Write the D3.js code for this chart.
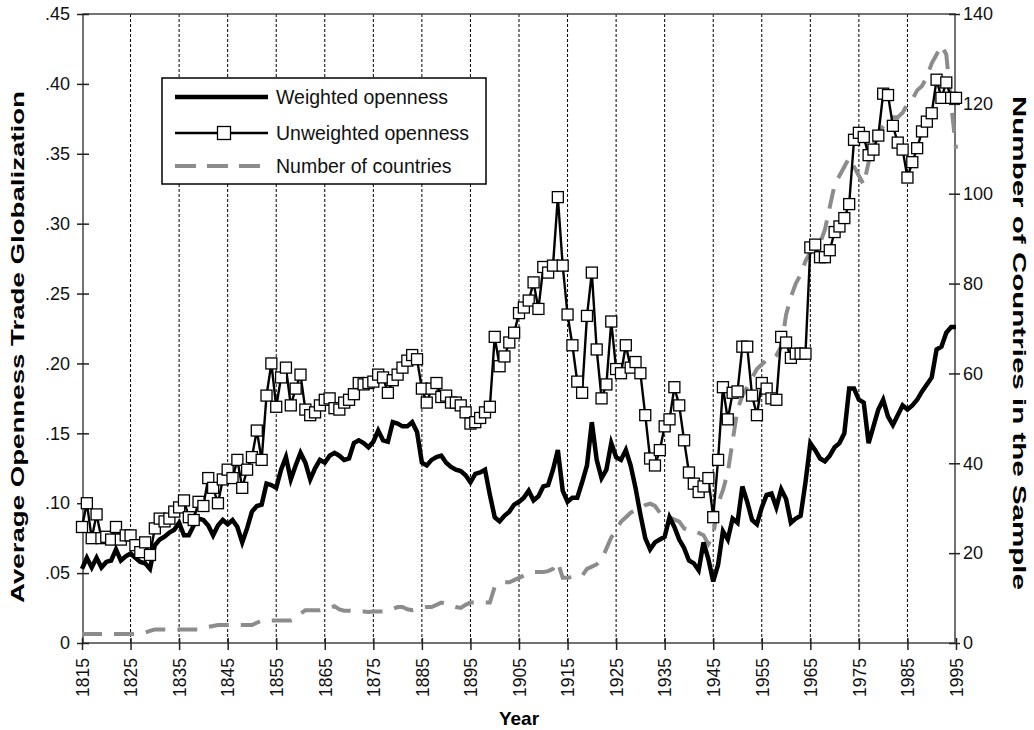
<!DOCTYPE html>
<html><head><meta charset="utf-8">
<script src="https://cdnjs.cloudflare.com/ajax/libs/d3/7.8.5/d3.min.js"></script>
<style>body{margin:0;background:#fff;} svg{display:block;font-family:"Liberation Sans",Arial,Helvetica,sans-serif;}</style>
</head><body><svg id="c" width="1034" height="730"></svg>
<script>
const years = d3.range(1815, 1996);
const weighted = [
.053,.061,.054,.061,.054,.058,.059,.067,.059,.062,
.064,.061,.058,.057,.053,.070,.074,.076,.079,.081,
.086,.077,.077,.084,.089,.088,.084,.077,.084,.088,
.085,.088,.083,.072,.082,.094,.098,.099,.114,.113,
.111,.124,.133,.117,.127,.136,.129,.117,.125,.131,
.129,.134,.136,.134,.131,.132,.143,.145,.143,.140,
.144,.152,.145,.144,.158,.157,.155,.155,.158,.151,
.129,.127,.131,.133,.134,.129,.126,.124,.123,.120,
.115,.121,.122,.124,.106,.090,.087,.091,.094,.099,
.101,.104,.109,.102,.105,.112,.113,.124,.138,.109,
.101,.104,.104,.115,.127,.158,.131,.118,.124,.143,
.133,.131,.138,.127,.111,.092,.075,.067,.072,.074,
.076,.090,.083,.074,.068,.059,.057,.052,.072,.060,
.044,.056,.080,.074,.089,.086,.112,.101,.088,.085,
.097,.106,.107,.097,.110,.103,.086,.089,.091,.115,
.143,.138,.132,.130,.134,.140,.143,.150,.182,.182,
.174,.172,.143,.155,.167,.174,.162,.156,.163,.170,
.167,.170,.174,.180,.185,.190,.210,.212,.222,.226,
.226];
const unweighted = [
.083,.100,.075,.092,.075,.076,.074,.083,.074,.077,
.077,.070,.065,.072,.063,.082,.089,.087,.089,.094,
.097,.102,.090,.088,.101,.098,.118,.111,.100,.117,
.124,.118,.131,.111,.124,.133,.152,.131,.177,.200,
.169,.190,.197,.170,.182,.192,.167,.163,.165,.170,
.174,.175,.168,.167,.172,.174,.178,.186,.185,.186,
.187,.192,.190,.179,.188,.192,.197,.202,.206,.203,
.182,.172,.182,.186,.176,.177,.172,.172,.170,.165,
.157,.158,.161,.165,.169,.219,.198,.205,.215,.222,
.236,.240,.245,.258,.239,.269,.265,.270,.319,.270,
.235,.213,.187,.179,.234,.265,.210,.175,.185,.230,
.196,.193,.213,.197,.201,.193,.163,.132,.127,.138,
.155,.160,.183,.170,.145,.122,.114,.108,.112,.118,
.090,.131,.183,.160,.179,.180,.212,.212,.177,.163,
.186,.182,.175,.174,.219,.215,.204,.207,.207,.207,
.283,.285,.276,.276,.281,.294,.298,.304,.314,.360,
.365,.362,.349,.353,.363,.393,.392,.370,.358,.353,
.333,.344,.354,.366,.373,.379,.403,.390,.401,.390,
.390];
const countries = [
2,2,2,2,2,2,2,2,2,2,
2,2,2,2.3,2.7,3,3,3,3,3,
3,3,3,3,3,3.3,3.6,3.8,4,4,
4,4,4,4,4,4,4.5,5,5,5,
5,5,5,5,5.5,6.5,7.3,7.3,7.3,7.3,
7.5,7.8,8.2,7.5,7.2,7.2,7.1,7,7,6.9,
7,7,7,7.3,7.6,8,8,7.5,7.3,7.5,
7.8,8,8,8.5,9,8.7,8.3,8,7.8,8.5,
9,9,9,9,9,12.5,13,13.5,13.5,14,
14.5,15,15.5,15.8,15.8,15.8,16,16.5,18,14.5,
14.5,14.7,14.7,15,16.5,17,17.5,18.5,21,23.5,
25,27,28,29,29.6,30,30.7,31,30.5,29,
28.5,28,27.5,27,25.5,25,25,24.5,24,22,
24,31,34,38,45,52,55,57,59,61,
62,63,63,64,66,73,77,80,82,85,
87,88,89,92,97,102,104,106,108,106,
104,102,107,111,113,115,116,117,117,118,
120,121,123,124,126,129,131,133,131,120,
110];
const xTicks = [1815,1825,1835,1845,1855,1865,1875,1885,1895,1905,1915,1925,1935,1945,1955,1965,1975,1985,1995];
const leftTicks = [0,.05,.10,.15,.20,.25,.30,.35,.40,.45];
const leftTickLabels = ["0",".05",".10",".15",".20",".25",".30",".35",".40",".45"];
const rightTicks = [0,20,40,60,80,100,120,140];
const seriesNames = ["Weighted openness","Unweighted openness","Number of countries"];

const svg = d3.select("#c");
const L = 83, R = 955, T = 14, B = 643;
const x = d3.scaleLinear().domain([1815,1995]).range([82,956]);
const yL = d3.scaleLinear().domain([0,.45]).range([B,T]);
const yR = d3.scaleLinear().domain([0,140]).range([B,T]);

// gridlines
svg.append("g").selectAll("line").data(xTicks.filter(d=>d>1815&&d<1995)).join("line")
  .attr("x1",d=>x(d)).attr("x2",d=>x(d)).attr("y1",T).attr("y2",B)
  .attr("stroke","#000").attr("stroke-width",1).attr("stroke-dasharray","3,2");

// frame
svg.append("rect").attr("x",L).attr("y",T).attr("width",R-L).attr("height",B-T)
  .attr("fill","none").attr("stroke","#444").attr("stroke-width",1.5);

// axes
const xAxis = d3.axisBottom(x).tickValues(xTicks).tickFormat(d3.format("d")).tickSizeInner(7).tickSizeOuter(0);
const gx = svg.append("g").attr("transform",`translate(0,${B})`).call(xAxis);
gx.selectAll(".tick line").attr("y1",-5).attr("stroke","#222").attr("stroke-width",1.5);
gx.selectAll(".tick text").attr("transform","rotate(-90)").attr("text-anchor","end")
  .attr("x",-15).attr("y",0).attr("dy","0.36em").attr("font-size",17.5).attr("fill","#111");

const yAxisL = d3.axisLeft(yL).tickValues(leftTicks).tickFormat((d,i)=>leftTickLabels[i]).tickSizeInner(6).tickSizeOuter(0);
const gl = svg.append("g").attr("transform",`translate(${L},0)`).call(yAxisL);
gl.selectAll(".tick line").attr("x2",6).attr("x1",-6).attr("stroke","#222").attr("stroke-width",1.5);
gl.selectAll(".tick text").attr("x",-13).attr("font-size",18).attr("fill","#111");

const yAxisR = d3.axisRight(yR).tickValues(rightTicks).tickSizeInner(6).tickSizeOuter(0);
const gr = svg.append("g").attr("transform",`translate(${R},0)`).call(yAxisR);
gr.selectAll(".tick line").attr("x1",-6).attr("x2",5).attr("stroke","#222").attr("stroke-width",1.5);
gr.selectAll(".tick text").attr("x",8).attr("font-size",18).attr("fill","#111");
svg.selectAll(".domain").remove();

// titles
svg.append("text").attr("transform","translate(24,347) rotate(-90)").attr("text-anchor","middle")
  .attr("font-weight","bold").attr("font-size",19).attr("textLength",512).attr("lengthAdjust","spacingAndGlyphs")
  .text("Average Openness Trade Globalization");
svg.append("text").attr("transform","translate(1013,343) rotate(90)").attr("text-anchor","middle")
  .attr("font-weight","bold").attr("font-size",19).attr("textLength",494).attr("lengthAdjust","spacingAndGlyphs")
  .text("Number of Countries in the Sample");
svg.append("text").attr("x",519).attr("y",725).attr("text-anchor","middle")
  .attr("font-weight","bold").attr("font-size",19).text("Year");

// series
const cLine = d3.line().x((d,i)=>x(years[i])).y(d=>yR(d));
svg.append("path").attr("d",cLine(countries)).attr("fill","none")
  .attr("stroke","#8c8c8c").attr("stroke-width",4).attr("stroke-dasharray","20,12");
const wLine = d3.line().x((d,i)=>x(years[i])).y(d=>yL(d));
svg.append("path").attr("d",wLine(weighted)).attr("fill","none")
  .attr("stroke","#000").attr("stroke-width",4.5).attr("stroke-linejoin","miter");
svg.append("path").attr("d",wLine(unweighted)).attr("fill","none")
  .attr("stroke","#000").attr("stroke-width",2.4);
const S = 11;
svg.append("g").selectAll("rect").data(unweighted).join("rect")
  .attr("x",(d,i)=>x(years[i])-S/2).attr("y",d=>yL(d)-S/2).attr("width",S).attr("height",S)
  .attr("fill","#fff").attr("stroke","#000").attr("stroke-width",1.3);

// legend
const lg = svg.append("g");
lg.append("rect").attr("x",162).attr("y",78).attr("width",324).attr("height",106)
  .attr("fill","#fff").attr("stroke","#000").attr("stroke-width",1.5);
const rowsY = [97,133,166];
lg.append("line").attr("x1",175).attr("x2",268).attr("y1",rowsY[0]).attr("y2",rowsY[0]).attr("stroke","#000").attr("stroke-width",4.5);
lg.append("line").attr("x1",175).attr("x2",268).attr("y1",rowsY[1]).attr("y2",rowsY[1]).attr("stroke","#000").attr("stroke-width",2.4);
lg.append("rect").attr("x",224-6.5).attr("y",rowsY[1]-6.5).attr("width",13).attr("height",13).attr("fill","#fff").attr("stroke","#000").attr("stroke-width",1.3);
lg.append("line").attr("x1",175).attr("x2",262).attr("y1",rowsY[2]).attr("y2",rowsY[2]).attr("stroke","#8c8c8c").attr("stroke-width",4).attr("stroke-dasharray","21,11");
lg.selectAll("text.lbl").data(seriesNames).join("text").attr("class","lbl")
  .attr("x",276).attr("y",(d,i)=>rowsY[i]).attr("dy","0.36em").attr("font-size",19.5).attr("fill","#111").text(d=>d);
</script></body></html>
